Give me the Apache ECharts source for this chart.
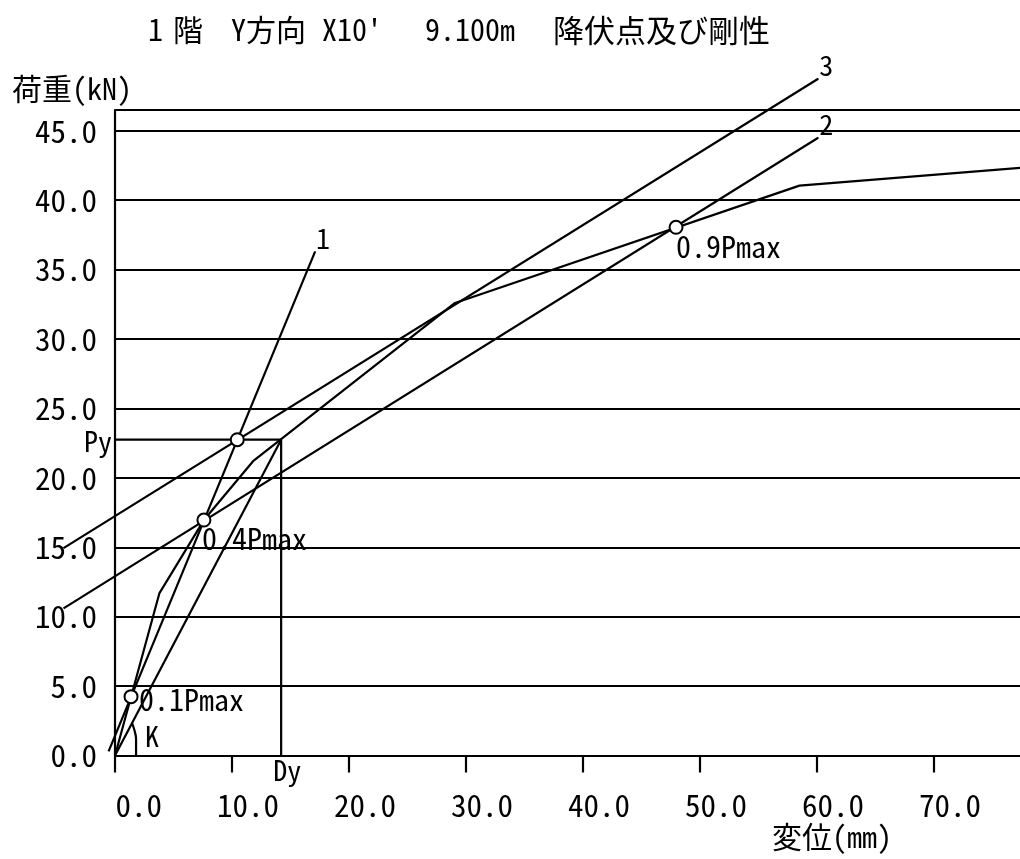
<!DOCTYPE html>
<html><head><meta charset="utf-8">
<script src="https://cdn.jsdelivr.net/npm/echarts@6/dist/echarts.min.js"></script>
<style>html,body{margin:0;padding:0;background:#fff}#c{width:1020px;height:859px}</style>
</head><body><div id="c"></div>
<script>
const FONT = "'Noto Sans Mono CJK JP','Noto Sans CJK JP','DejaVu Sans Mono',monospace";

// title pieces
const titleParts = ["1", "階", "Y方向", "X10'", "9.100m", "降伏点及び剛性"];
const yAxisName = "荷重(kN)";
const xAxisName = "変位(mm)";

// axes
const xMin = 0, xMax = 77.52, xStep = 10;
const yMin = 0, yMax = 46.5, yStep = 5;

// load-displacement curve
const curveX = [0, 3.8, 7.6, 11.8, 29.06, 58.5, 77.6];
const curveY = [0, 11.7, 16.96, 21.2, 32.6, 41.05, 42.35];

// construction lines
const line1 = [[-0.55, 0.3], [17.1, 36.3]];
const line2 = [[-4.4, 10.6], [60.1, 44.5]];
const line3 = [[-4.4, 14.94], [60.1, 48.75]];
const Py = 22.75, Dy = 14.2;
const pyDyLine = [[0, Py], [Dy, Py], [Dy, 0]];
const kLine = [[0, 0], [Dy, Py]];
const kArc = [[1.8, 0], [1.8, 1.2], [1.65, 1.85], [1.45, 2.35]];

// characteristic points
const pointNames = ["0.1Pmax", "0.4Pmax", "0.9Pmax", ""];
const pointX = [1.37, 7.6, 47.95, 10.45];
const pointY = [4.24, 16.96, 38.05, Py];

const lineLabels = ["1", "2", "3"];
const lineEnds = [line1[1], line2[1], line3[1]];

// layout
const W = 1020, H = 859;
const G = {left: 115, right: -2, top: 110, bottom: 103.5};
const plotW = W - G.left - G.right, plotH = H - G.top - G.bottom;
// overlay grid with identical scale that reaches the canvas left/top edges
const oxMin = xMin - G.left * (xMax - xMin) / plotW;
const oyMax = yMax + G.top * (yMax - yMin) / plotH;

const chart = echarts.init(document.getElementById('c'), null, {renderer: 'canvas'});

const LW = 2.2;
const lineStyle = {color: '#000', width: LW};
function seg(data, gi, extra) {
  return Object.assign({type: 'line', data: data, symbol: 'none', clip: gi === 0, lineStyle: lineStyle,
          xAxisIndex: gi, yAxisIndex: gi, silent: true, animation: false, z: 3}, extra || {});
}
const pointOffsets = [[8, 3], [-2, 19], [0, 19], [0, 0]];
function txtLabel(text, align, offset, size) {
  return {show: true, formatter: text, position: ['50%', '50%'], align: align, verticalAlign: 'middle',
          offset: offset, color: '#000', textBorderWidth: 0, textBorderColor: 'transparent',
          opacity: 1, fontFamily: FONT, fontSize: size || 28};
}
function gtext(text, x, y, size) {
  return {type: 'text', style: {text: text, x: x, y: y, fontFamily: FONT, fontSize: size || 30,
          verticalAlign: 'middle', fill: '#000'}};
}

const option = {
  animation: false,
  backgroundColor: '#fff',
  grid: [
    Object.assign({outerBoundsMode: 'none', containLabel: false}, G),
    {left: 0, right: G.right, top: 0, bottom: G.bottom, outerBoundsMode: 'none', containLabel: false}
  ],
  xAxis: [{
    type: 'value', min: xMin, max: xMax, interval: xStep, gridIndex: 0,
    axisLine: {show: true, onZero: false, lineStyle: {color: '#000', width: LW}},
    axisTick: {show: true, length: 17, lineStyle: {color: '#000', width: LW}},
    splitLine: {show: false},
    axisLabel: {
      color: '#000', fontFamily: FONT, fontSize: 31, margin: 34, align: 'right',
      padding: [0, -47, 0, 0],
      formatter: v => (Math.abs(v % xStep) < 1e-9 ? v.toFixed(1) : '')
    }
  }, {
    type: 'value', min: oxMin, max: xMax, gridIndex: 1, show: false
  }],
  yAxis: [{
    type: 'value', min: yMin, max: yMax, interval: yStep, gridIndex: 0,
    axisLine: {show: true, onZero: false, lineStyle: {color: '#000', width: LW}},
    axisTick: {show: false},
    splitLine: {show: true, lineStyle: {color: '#000', width: LW}},
    axisLabel: {
      color: '#000', fontFamily: FONT, fontSize: 31, margin: 18,
      formatter: v => (Math.abs(v % yStep) < 1e-9 ? v.toFixed(1) : '')
    }
  }, {
    type: 'value', min: yMin, max: oyMax, gridIndex: 1, show: false
  }],
  graphic: [
    gtext(titleParts[0], 148, 30),
    gtext(titleParts[1], 173, 30),
    gtext(titleParts[2], 231, 30),
    gtext(titleParts[3], 322, 30),
    gtext(titleParts[4], 425, 30),
    gtext(titleParts[5], 553, 30, 31),
    gtext(yAxisName, 12, 89),
    gtext(xAxisName, 772, 837)
  ],
  series: [
    seg(curveX.map((x, i) => [x, curveY[i]]), 0),
    seg(line1, 1),
    seg(line2, 1),
    seg(line3, 1),
    seg(pyDyLine, 0),
    seg(kLine, 0),
    seg(kArc, 0, {smooth: 0.4}),
    {
      type: 'scatter', symbol: 'circle', symbolSize: 13, z: 5, silent: true, clip: false,
      xAxisIndex: 0, yAxisIndex: 0,
      itemStyle: {color: '#fff', borderColor: '#000', borderWidth: 2, opacity: 1},
      data: pointX.map((x, i) => ({
        value: [x, pointY[i]],
        label: pointNames[i] ? txtLabel(pointNames[i], 'left', pointOffsets[i], 30) : {show: false}
      }))
    },
    {
      type: 'scatter', symbol: 'circle', symbolSize: 1, z: 6, silent: true, clip: false,
      xAxisIndex: 1, yAxisIndex: 1,
      itemStyle: {color: '#000', opacity: 1},
      data: lineEnds.map((p, i) => ({value: p, label: txtLabel(lineLabels[i], 'left', [1, -13])}))
        .concat([
          {value: [0, Py], label: txtLabel('Py', 'right', [-3, 2])},
          {value: [Dy, 0], label: txtLabel('Dy', 'left', [-8, 15])},
          {value: kArc[1], label: txtLabel('K', 'left', [9, -2])}
        ])
    }
  ]
};
chart.setOption(option);
</script>
</body></html>
